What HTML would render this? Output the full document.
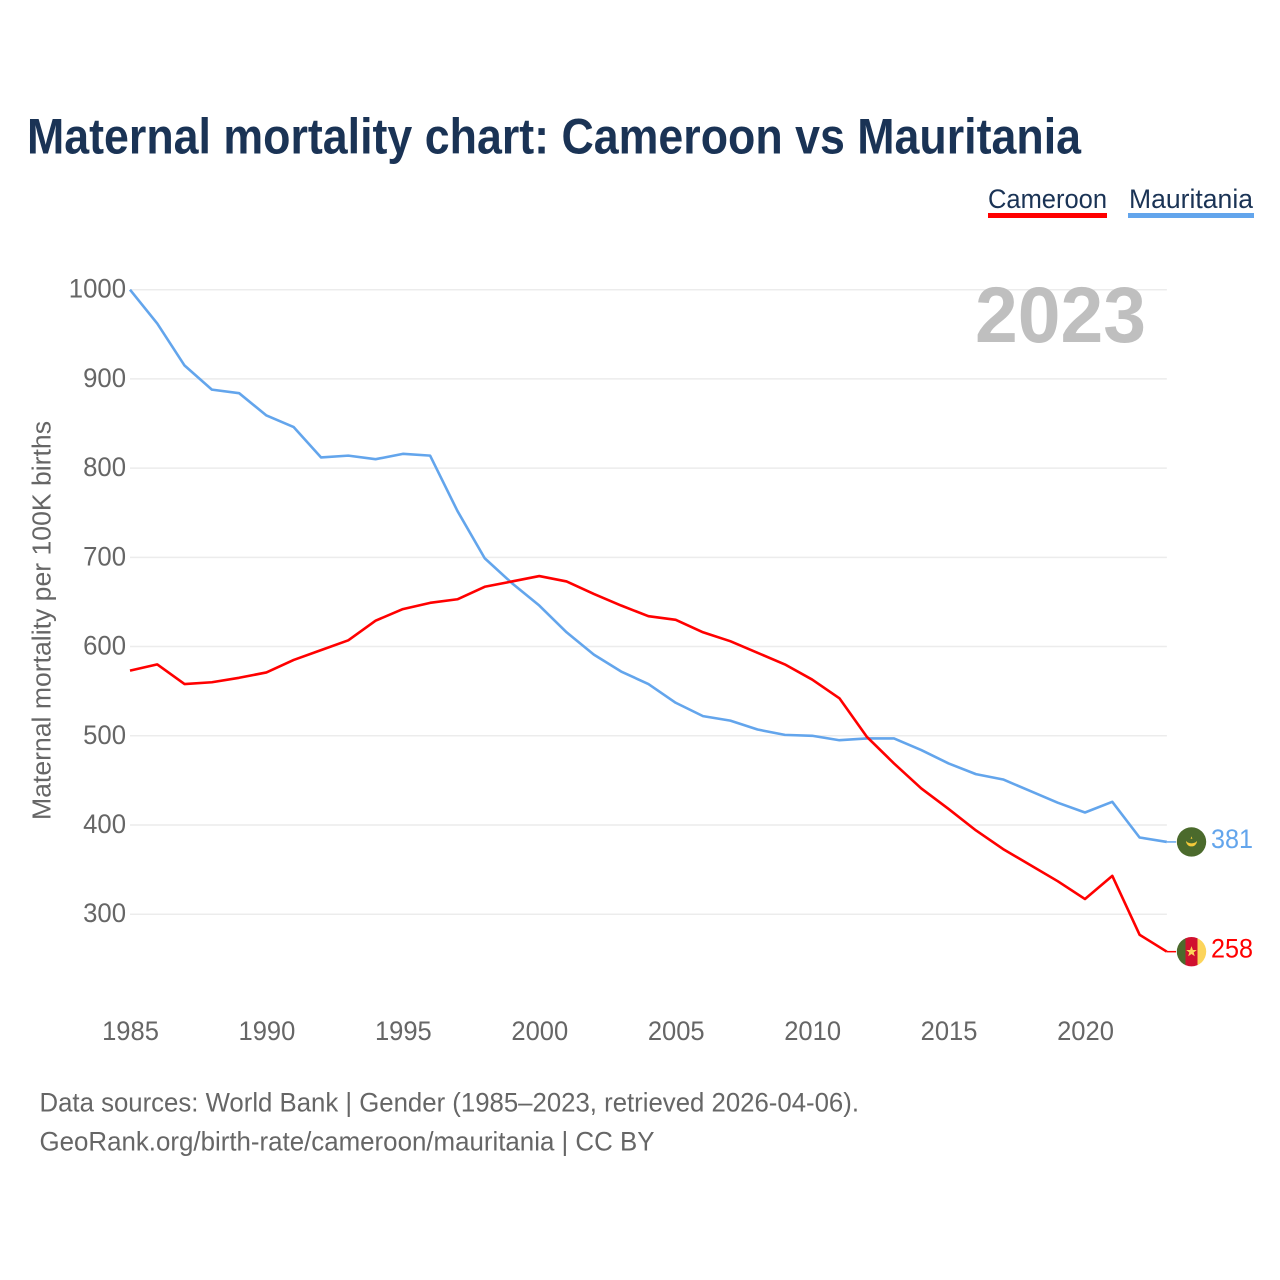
<!DOCTYPE html>
<html lang="en">
<head>
<meta charset="utf-8">
<title>Maternal mortality chart: Cameroon vs Mauritania</title>
<style>
html,body{margin:0;padding:0;background:#fff;}
svg{display:block;font-family:"Liberation Sans",sans-serif;}
</style>
</head>
<body>
<svg id="chart" xmlns="http://www.w3.org/2000/svg" width="1280" height="1280" viewBox="0 0 1280 1280">
  <rect width="1280" height="1280" fill="#ffffff"/>
  <text x="27" y="153.5" font-size="50" font-weight="700" fill="#1a3355" textLength="1054" lengthAdjust="spacingAndGlyphs">Maternal mortality chart: Cameroon vs Mauritania</text>

  <g>
    <text x="988" y="208" font-size="26.5" fill="#1a3355" textLength="119" lengthAdjust="spacingAndGlyphs">Cameroon</text>
    <rect x="988" y="213" width="119" height="5" fill="#ff0000"/>
  </g>
  <g>
    <text x="1129" y="208" font-size="26.5" fill="#1a3355" textLength="124" lengthAdjust="spacingAndGlyphs">Mauritania</text>
    <rect x="1128" y="213" width="126" height="5" fill="#63a5ec"/>
  </g>

  <g id="grid"></g>
  <text x="975" y="342" font-size="79" font-weight="700" fill="#bfbfbf" textLength="171" lengthAdjust="spacingAndGlyphs">2023</text>
  <g id="yticks"></g>
  <g id="xticks"></g>
  <text transform="translate(50.5,620.5) rotate(-90)" text-anchor="middle" font-size="25.5" fill="#666666" textLength="399" lengthAdjust="spacingAndGlyphs">Maternal mortality per 100K births</text>

  <path id="line-mauritania" fill="none" stroke="#63a5ec" stroke-width="2.6" stroke-linejoin="round"/>
  <path id="line-cameroon" fill="none" stroke="#ff0000" stroke-width="2.6" stroke-linejoin="round"/>
  <line id="leader-mauritania" x1="1167" x2="1176" stroke="#63a5ec" stroke-width="1.5"/>
  <line id="leader-cameroon" x1="1167" x2="1176" stroke="#ff0000" stroke-width="1.5"/>

  <defs>
    <clipPath id="clip-mauritania"><circle cx="0" cy="0" r="14.7"/></clipPath>
    <clipPath id="clip-cameroon"><circle cx="0" cy="0" r="14.7"/></clipPath>
  </defs>
  <g id="flag-mauritania">
    <g clip-path="url(#clip-mauritania)">
      <rect x="-15" y="-15" width="30" height="30" fill="#4b6a2c"/>
      <path d="M-5.5,-1 A5.5,5.5 0 0 0 5.5,-1 A6,4 0 0 1 -5.5,-1 Z" fill="#f4c93a"/>
      <path d="M0,-5.5 L0.9,-3.2 L-0.9,-3.2 Z" fill="#f4c93a"/>
    </g>
  </g>
  <g id="flag-cameroon">
    <g clip-path="url(#clip-cameroon)">
      <rect x="-15" y="-15" width="9.5" height="30" fill="#4b6a2c"/>
      <rect x="-6" y="-15" width="12.5" height="30" fill="#d0102f"/>
      <rect x="6" y="-15" width="9" height="30" fill="#fcd45a"/>
      <path d="M0,-5.5 L1.4,-1.7 L5.3,-1.7 L2.2,0.7 L3.3,4.6 L0,2.3 L-3.3,4.6 L-2.2,0.7 L-5.3,-1.7 L-1.4,-1.7 Z" fill="#fcd45a"/>
    </g>
  </g>
  <text id="value-mauritania" x="1211" font-size="27" fill="#63a5ec" textLength="42" lengthAdjust="spacingAndGlyphs"></text>
  <text id="value-cameroon" x="1211" font-size="27" fill="#ff0000" textLength="42" lengthAdjust="spacingAndGlyphs"></text>

  <text x="39.5" y="1111.5" font-size="26.5" fill="#666666" textLength="819.5" lengthAdjust="spacingAndGlyphs">Data sources: World Bank | Gender (1985–2023, retrieved 2026-04-06).</text>
  <text x="39.5" y="1150.5" font-size="26.5" fill="#666666" textLength="615" lengthAdjust="spacingAndGlyphs">GeoRank.org/birth-rate/cameroon/mauritania | CC BY</text>
</svg>
<script>
const years = [1985,1986,1987,1988,1989,1990,1991,1992,1993,1994,1995,1996,1997,1998,1999,2000,2001,2002,2003,2004,2005,2006,2007,2008,2009,2010,2011,2012,2013,2014,2015,2016,2017,2018,2019,2020,2021,2022,2023];
const mauritania = [1000,962,915,888,884,859,846,812,814,810,816,814,752,699,671,646,616,591,572,558,537,522,517,507,501,500,495,497,497,484,469,457,451,438,425,414,426,386,381];
const cameroon = [573,580,558,560,565,571,585,596,607,629,642,649,653,667,673,679,673,659,646,634,630,616,606,593,580,563,542,499,469,441,418,394,373,355,337,317,343,277,258];
const yTickValues = [300,400,500,600,700,800,900,1000];
const xTickValues = [1985,1990,1995,2000,2005,2010,2015,2020];

const NS = 'http://www.w3.org/2000/svg';
function xScale(year) { return 130 + (year - 1985) * (1085 - 130) / 35; }
function yScale(value) { return 914.2 + (value - 300) * (289.7 - 914.2) / 700; }
function linePath(series) {
  return series.map(function (v, i) {
    return (i ? 'L' : 'M') + xScale(years[i]).toFixed(2) + ',' + yScale(v).toFixed(2);
  }).join(' ');
}

const gridGroup = document.getElementById('grid');
const yTickGroup = document.getElementById('yticks');
const xTickGroup = document.getElementById('xticks');

yTickValues.forEach(function (v) {
  const line = document.createElementNS(NS, 'line');
  
  
  line.setAttribute('x1', xScale(1985));
  line.setAttribute('x2', xScale(2023));
  line.setAttribute('y1', yScale(v));
  line.setAttribute('y2', yScale(v));
  line.setAttribute('stroke', '#ececec');
  line.setAttribute('stroke-width', '1.5');
  gridGroup.appendChild(line);

  const label = document.createElementNS(NS, 'text');
  
  
  label.setAttribute('x', 126);
  label.setAttribute('y', yScale(v) + 8);
  label.setAttribute('text-anchor', 'end');
  label.setAttribute('font-size', '26.5');
  label.setAttribute('fill', '#666666');
  label.setAttribute('textLength', String(v).length * 14.3);
  label.setAttribute('lengthAdjust', 'spacingAndGlyphs');
  label.textContent = v;
  yTickGroup.appendChild(label);
});

xTickValues.forEach(function (yr) {
  const label = document.createElementNS(NS, 'text');
  
  
  label.setAttribute('x', xScale(yr) + 0.5);
  label.setAttribute('y', 1040);
  label.setAttribute('text-anchor', 'middle');
  label.setAttribute('font-size', '26.5');
  label.setAttribute('fill', '#666666');
  label.setAttribute('textLength', '56.8');
  label.setAttribute('lengthAdjust', 'spacingAndGlyphs');
  label.textContent = yr;
  xTickGroup.appendChild(label);
});

document.getElementById('line-mauritania').setAttribute('d', linePath(mauritania));
document.getElementById('line-cameroon').setAttribute('d', linePath(cameroon));

function placeEnd(key, series) {
  const last = series[series.length - 1];
  const y = yScale(last);
  const leader = document.getElementById('leader-' + key);
  leader.setAttribute('y1', y);
  leader.setAttribute('y2', y);
  document.getElementById('flag-' + key).setAttribute('transform', 'translate(1191.5,' + y + ')');
  const value = document.getElementById('value-' + key);
  value.setAttribute('y', y + 6);
  value.textContent = last;
}
placeEnd('mauritania', mauritania);
placeEnd('cameroon', cameroon);
</script>
</body>
</html>
